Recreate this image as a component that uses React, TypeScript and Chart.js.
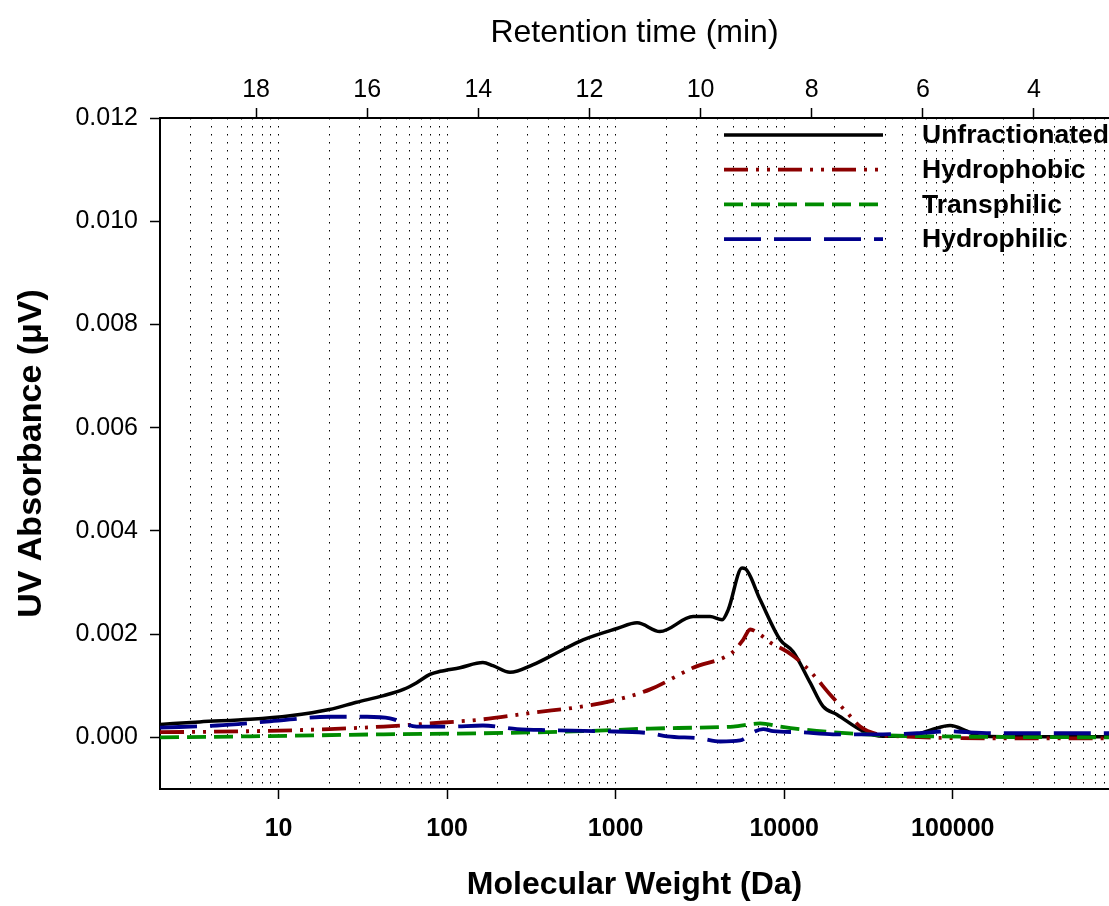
import React, { useEffect, useRef } from 'react';
import { Chart, registerables } from 'chart.js';

Chart.register(...registerables);

const FONT = '"Liberation Sans", Arial, Helvetica, sans-serif';

// ---- Data ----
const SERIES_NAMES = ['Unfractionated', 'Hydrophobic', 'Transphilic', 'Hydrophilic'];

const unfracMW = [1.98, 3.4, 6.8, 11.7, 20, 29, 42, 55, 66, 79, 91, 119, 163, 187, 236, 324, 449, 640, 1018, 1340, 1830, 2880, 3630, 4280, 4650, 5620, 5860, 7190, 9460, 11300, 14250, 17000, 20600, 29400, 38600, 61500, 76500, 96400, 121700, 145000, 300000, 845000];
const unfracUV = [0.00025, 0.0003, 0.00035, 0.00042, 0.00054, 0.00068, 0.00081, 0.00093, 0.00106, 0.00122, 0.00128, 0.00135, 0.00145, 0.00139, 0.00126, 0.00141, 0.00164, 0.00189, 0.00211, 0.00222, 0.00205, 0.00234, 0.00234, 0.00228, 0.00247, 0.00328, 0.00327, 0.00267, 0.00189, 0.00166, 0.00106, 0.0006, 0.00044, 0.00012, 0.00002, 0.00006, 0.00016, 0.00023, 0.00012, 0.00002, 0.00001, 0.00001];

const phobicMW = [1.98, 6.8, 20, 42, 79, 163, 324, 640, 1018, 1600, 2880, 4980, 5700, 6280, 7190, 8240, 10400, 12420, 14830, 18700, 23600, 28200, 35600, 48700, 191000, 845000];
const phobicUV = [0.0001, 0.00012, 0.00016, 0.00021, 0.00027, 0.00035, 0.00048, 0.0006, 0.00073, 0.00093, 0.00135, 0.00166, 0.00189, 0.00209, 0.00199, 0.00184, 0.00166, 0.00147, 0.00122, 0.00083, 0.00048, 0.00021, 0.00006, 0.00002, -0.00002, -0.00002];

const transMW = [1.98, 6.8, 42, 163, 640, 1600, 3170, 4980, 7190, 9460, 12420, 19500, 38600, 76500, 845000];
const transUV = [0.0, 0.00002, 0.00006, 0.00008, 0.00012, 0.00017, 0.00019, 0.00021, 0.00027, 0.00021, 0.00016, 0.0001, 0.00004, 0.00002, 0.0];

const philicMW = [1.98, 4.3, 8.9, 20, 33.5, 45.8, 66, 104, 163, 260, 408, 807, 1600, 2020, 3170, 4160, 5470, 6530, 7500, 8600, 12420, 19500, 38600, 61500, 96400, 121700, 191000, 845000];
const philicUV = [0.00019, 0.00023, 0.00031, 0.0004, 0.0004, 0.00037, 0.00021, 0.00021, 0.00023, 0.00016, 0.00014, 0.00012, 0.00008, 0.00002, -0.00002, -0.00008, -0.00006, 0.0001, 0.00016, 0.00012, 0.0001, 0.00006, 0.00006, 0.00008, 0.00012, 0.0001, 0.00008, 0.00008];

const MW_MAJOR_TICKS = [10, 100, 1000, 10000, 100000];
const UV_TICKS = [0, 0.002, 0.004, 0.006, 0.008, 0.01, 0.012];
const RT_TICKS = [4, 6, 8, 10, 12, 14, 16, 18];

const MW_MIN = 1.979;
const MW_MAX = 845000;
const RT_MIN = 2.65;
const RT_MAX = 19.73;

// ---- Styles ----
const STYLES = [
  { color: '#000000', width: 3.5, dash: [] as number[] },
  { color: '#8B0000', width: 3.8, dash: [24, 8, 3, 8, 3, 8] },
  { color: '#008B00', width: 3.8, dash: [19, 8] },
  { color: '#00008B', width: 3.8, dash: [37, 13] },
];

const toPoints = (xs: number[], ys: number[]) => xs.map((x, i) => ({ x, y: ys[i] }));

const isMajor = (v: number) => MW_MAJOR_TICKS.some((m) => Math.abs(m - v) / m < 1e-6);

const legendPlugin = {
  id: 'customLegend',
  afterDraw(chart: any) {
    const ctx = chart.ctx as CanvasRenderingContext2D;
    ctx.save();
    SERIES_NAMES.forEach((name, i) => {
      const st = STYLES[i];
      const y = 135 + i * 34.7;
      ctx.beginPath();
      ctx.setLineDash(st.dash);
      ctx.lineWidth = st.width;
      ctx.strokeStyle = st.color;
      ctx.lineCap = 'butt';
      ctx.moveTo(724, y);
      ctx.lineTo(883, y);
      ctx.stroke();
      ctx.setLineDash([]);
      ctx.fillStyle = '#000';
      ctx.font = `bold 26.5px ${FONT}`;
      ctx.textBaseline = 'middle';
      ctx.textAlign = 'left';
      ctx.fillText(name, 922, y + 1);
    });
    ctx.restore();
  },
};

export default function App() {
  const ref = useRef<HTMLCanvasElement | null>(null);

  useEffect(() => {
    if (!ref.current) return;
    Chart.defaults.font.family = FONT;
    Chart.defaults.color = '#000';

    const series = [
      toPoints(unfracMW, unfracUV),
      toPoints(phobicMW, phobicUV),
      toPoints(transMW, transUV),
      toPoints(philicMW, philicUV),
    ];

    const chart = new Chart(ref.current, {
      type: 'line',
      data: {
        datasets: series.map((data, i) => ({
          label: SERIES_NAMES[i],
          data,
          borderColor: STYLES[i].color,
          borderWidth: STYLES[i].width,
          borderDash: STYLES[i].dash,
          pointRadius: 0,
          fill: false,
          tension: 0.4,
          cubicInterpolationMode: 'monotone' as const,
          order: 4 - i,
        })),
      },
      options: {
        animation: false,
        responsive: false,
        maintainAspectRatio: false,
        layout: { padding: 0 },
        plugins: {
          legend: { display: false },
          tooltip: { enabled: false },
        },
        scales: {
          x: {
            type: 'logarithmic',
            position: 'bottom',
            min: MW_MIN,
            max: MW_MAX,
            afterBuildTicks: (scale: any) => {
              const ticks: { value: number }[] = [];
              for (let e = 0; e <= 6; e++) {
                for (let m = 1; m <= 9; m++) {
                  const v = m * Math.pow(10, e);
                  if (v > MW_MIN * 1.05 && v <= MW_MAX) ticks.push({ value: v });
                }
              }
              scale.ticks = ticks;
            },
            afterFit: (scale: any) => {
              scale.height = 117;
              scale.paddingLeft = 0;
              scale.paddingRight = 0;
            },
            ticks: {
              autoSkip: false,
              maxRotation: 0,
              minRotation: 0,
              padding: 15,
              font: { size: 25, weight: 'bold' },
              color: '#000',
              callback: (v: any) => (isMajor(Number(v)) ? String(Math.round(Number(v))) : ''),
            },
            grid: {
              color: '#000',
              lineWidth: 1,
              drawTicks: true,
              tickLength: 10,
              tickWidth: 1.5,
              tickColor: (c: any) => (c.tick && isMajor(c.tick.value) ? '#000' : 'rgba(0,0,0,0)'),
            },
            border: { display: true, color: '#000', width: 2, dash: [1.5, 6.5] },
            title: {
              display: true,
              text: 'Molecular Weight (Da)',
              font: { size: 32, weight: 'bold' },
              color: '#000',
              padding: { top: 0, bottom: 2 },
            },
          },
          x2: {
            type: 'linear',
            position: 'top',
            reverse: true,
            min: RT_MIN,
            max: RT_MAX,
            afterBuildTicks: (scale: any) => {
              scale.ticks = RT_TICKS.map((v) => ({ value: v }));
            },
            afterFit: (scale: any) => {
              scale.height = 118;
              scale.paddingLeft = 0;
              scale.paddingRight = 0;
            },
            ticks: {
              autoSkip: false,
              maxRotation: 0,
              padding: 3,
              font: { size: 25 },
              color: '#000',
              callback: (v: any) => String(v),
            },
            grid: {
              drawOnChartArea: false,
              drawTicks: true,
              tickLength: 10,
              tickWidth: 1.5,
              tickColor: '#000',
            },
            border: { display: true, color: '#000', width: 2 },
            title: {
              display: true,
              text: 'Retention time (min)',
              font: { size: 32 },
              color: '#000',
              padding: { top: 14, bottom: 0 },
            },
          },
          y: {
            type: 'linear',
            position: 'left',
            min: -0.001,
            max: 0.012,
            afterBuildTicks: (scale: any) => {
              scale.ticks = UV_TICKS.map((v) => ({ value: v }));
            },
            afterFit: (scale: any) => {
              scale.width = 160;
            },
            ticks: {
              autoSkip: false,
              padding: 12,
              font: { size: 25 },
              color: '#000',
              callback: (v: any) => Number(v).toFixed(3),
            },
            grid: {
              drawOnChartArea: false,
              drawTicks: true,
              tickLength: 10,
              tickWidth: 1.5,
              tickColor: '#000',
            },
            border: { display: true, color: '#000', width: 2 },
            title: {
              display: true,
              text: 'UV Absorbance (\u03BCV)',
              font: { size: 34, weight: 'bold' },
              color: '#000',
              padding: { top: 11, bottom: 0 },
            },
          },
        },
      },
      plugins: [legendPlugin],
    } as any);

    return () => chart.destroy();
  }, []);

  return (
    <div style={{ position: 'absolute', left: 0, top: 0, width: 1109, height: 906, background: '#fff' }}>
      <canvas ref={ref} width={1109} height={906} style={{ display: 'block', width: 1109, height: 906 }} />
    </div>
  );
}
